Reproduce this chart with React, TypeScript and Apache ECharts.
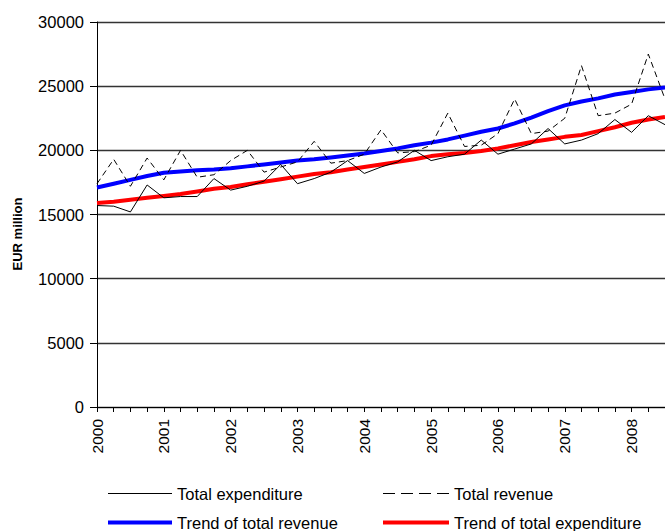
import React, { useEffect, useRef } from "react";
import * as echarts from "echarts";

const quarters = [
  "2000 Q1", "2000 Q2", "2000 Q3", "2000 Q4",
  "2001 Q1", "2001 Q2", "2001 Q3", "2001 Q4",
  "2002 Q1", "2002 Q2", "2002 Q3", "2002 Q4",
  "2003 Q1", "2003 Q2", "2003 Q3", "2003 Q4",
  "2004 Q1", "2004 Q2", "2004 Q3", "2004 Q4",
  "2005 Q1", "2005 Q2", "2005 Q3", "2005 Q4",
  "2006 Q1", "2006 Q2", "2006 Q3", "2006 Q4",
  "2007 Q1", "2007 Q2", "2007 Q3", "2007 Q4",
  "2008 Q1", "2008 Q2", "2008 Q3",
];

const totalExpenditure = [
  15700, 15650, 15200, 17300, 16300, 16400, 16400, 17800,
  16900, 17200, 17600, 18900, 17400, 17800, 18300, 19200,
  18200, 18700, 19100, 20000, 19200, 19500, 19700, 20800,
  19700, 20100, 20500, 21700, 20500, 20800, 21300, 22400,
  21400, 22700, 22000,
];

const totalRevenue = [
  17400, 19300, 17200, 19400, 17700, 20000, 17900, 18100,
  19200, 20000, 18300, 18700, 19100, 20700, 19000, 19200,
  19700, 21600, 19800, 19900, 20400, 22900, 20300, 20400,
  21300, 24000, 21300, 21500, 22500, 26600, 22700, 22900,
  23600, 27500, 24000,
];

const trendRevenue = [
  17100, 17400, 17700, 18000, 18250, 18350, 18450, 18500,
  18600, 18750, 18900, 19050, 19200, 19300, 19450, 19600,
  19750, 19950, 20150, 20400, 20600, 20850, 21150, 21450,
  21700, 22100, 22550, 23050, 23500, 23800, 24050, 24350,
  24550, 24750, 24900,
];

const trendExpenditure = [
  15900, 16000, 16150, 16300, 16450, 16600, 16800, 17000,
  17150, 17350, 17550, 17750, 17950, 18150, 18300, 18500,
  18700, 18900, 19100, 19300, 19550, 19700, 19800, 19950,
  20150, 20400, 20650, 20850, 21050, 21200, 21500, 21800,
  22150, 22400, 22600,
];

const FONT = "'Liberation Sans', Arial, sans-serif";

export default function App() {
  const ref = useRef<HTMLDivElement>(null);

  useEffect(() => {
    if (!ref.current) return;
    const chart = echarts.init(ref.current, null, { renderer: "svg" });
    const legendText = { fontFamily: FONT, fontSize: 16.5, color: "#000" };
    const mkLegend = (
      name: string,
      left: number,
      top: number,
      icon: string,
      w: number,
      color: string
    ) => ({
      left,
      top,
      padding: 0,
      orient: "horizontal",
      itemWidth: w,
      itemHeight: 14,
      symbolKeepAspect: true,
      textStyle: legendText,
      data: [{ name, icon, itemStyle: { color } }],
    });
    chart.setOption({
      animation: false,
      backgroundColor: "#fff",
      grid: { left: 97, top: 22, bottom: 124, width: 577 },
      xAxis: {
        type: "category",
        data: quarters,
        boundaryGap: false,
        axisLine: { lineStyle: { color: "#000", width: 1 } },
        axisTick: { show: true, interval: 0, length: 5, lineStyle: { color: "#000" } },
        axisLabel: {
          interval: 3,
          rotate: 90,
          margin: 12,
          fontFamily: FONT,
          fontSize: 15.5,
          color: "#000",
          formatter: (v: string) => v.slice(0, 4),
        },
        splitLine: { show: false },
      },
      yAxis: {
        type: "value",
        min: 0,
        max: 30000,
        interval: 5000,
        axisLine: { show: true, lineStyle: { color: "#000", width: 1 } },
        axisTick: { show: true, length: 7, lineStyle: { color: "#000" } },
        axisLabel: {
          margin: 13,
          fontFamily: FONT,
          fontSize: 16.5,
          color: "#000",
          formatter: (v: number) => String(v),
        },
        splitLine: { show: true, lineStyle: { color: "#333", width: 1.3 } },
      },
      graphic: [
        {
          type: "text",
          x: 17,
          y: 234,
          rotation: Math.PI / 2,
          style: {
            text: "EUR million",
            font: `bold 13px ${FONT}`,
            fill: "#000",
            textAlign: "center",
            textVerticalAlign: "middle",
          },
        },
      ],
      legend: [
        mkLegend("Total expenditure", 108, 485, "path://M0,0h64v1h-64z", 64, "#000"),
        mkLegend(
          "Total revenue",
          383,
          485,
          "path://M0,0h12v1h-12zM18,0h12v1h-12zM36,0h12v1h-12zM54,0h12v1h-12z",
          66,
          "#000"
        ),
        mkLegend("Trend of total revenue", 108, 514, "path://M0,0h64v4h-64z", 64, "#0000ff"),
        mkLegend("Trend of total expenditure", 383, 514, "path://M0,0h66v4h-66z", 66, "#ff0000"),
      ],
      series: [
        {
          name: "Trend of total revenue",
          type: "line",
          data: trendRevenue,
          symbol: "none",
          lineStyle: { color: "#0000ff", width: 4 },
          itemStyle: { color: "#0000ff" },
        },
        {
          name: "Trend of total expenditure",
          type: "line",
          data: trendExpenditure,
          symbol: "none",
          lineStyle: { color: "#ff0000", width: 4 },
          itemStyle: { color: "#ff0000" },
        },
        {
          name: "Total expenditure",
          type: "line",
          data: totalExpenditure,
          symbol: "none",
          lineStyle: { color: "#000", width: 1 },
          itemStyle: { color: "#000" },
        },
        {
          name: "Total revenue",
          type: "line",
          data: totalRevenue,
          symbol: "none",
          lineStyle: { color: "#000", width: 1, type: [6, 4] },
          itemStyle: { color: "#000" },
        },
      ],
    });
    return () => chart.dispose();
  }, []);

  return (
    <div
      ref={ref}
      style={{ position: "fixed", left: 0, top: 0, width: 665, height: 531, background: "#fff" }}
    />
  );
}
